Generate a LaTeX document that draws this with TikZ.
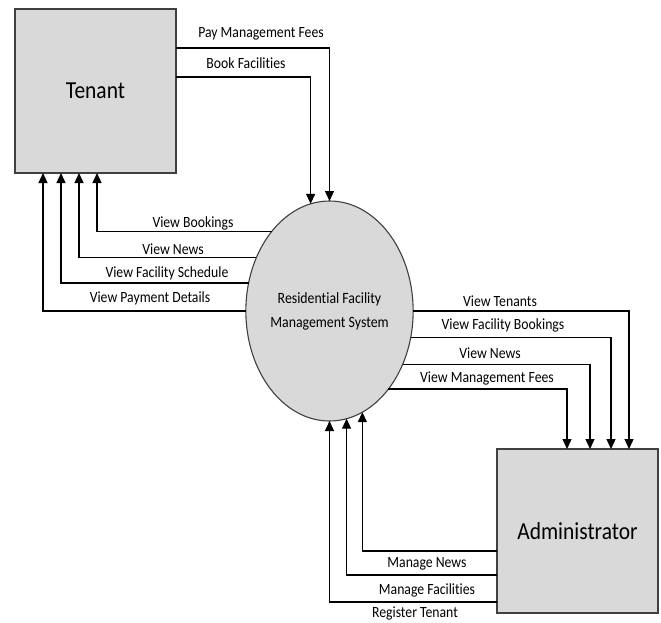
\documentclass[tikz,border=0pt]{standalone}
\usepackage{fontspec}
\setmainfont{Carlito}[FakeStretch=0.88,RawFeature=-liga]
\usetikzlibrary{shapes.geometric,arrows.meta}
\begin{document}
\begin{tikzpicture}[x=1pt,y=-1pt,
  entity/.style={draw=black!75,line width=1.3pt,fill=black!15,rectangle,minimum width=161pt,minimum height=164pt,inner sep=0pt,outer sep=0pt,font=\fontsize{24.4}{28}\selectfont},
  proc/.style={draw=black!75,line width=1.1pt,fill=black!15,ellipse,minimum width=161pt,minimum height=220pt,inner sep=0pt,outer sep=0pt,align=center,font=\fontsize{15.7}{24}\selectfont},
  flow/.style={draw=black,line width=1.3pt,-{Triangle[length=10pt,width=9pt]}},
  lbl/.style={inner sep=0pt,font=\fontsize{15.6}{18}\selectfont}]
\useasboundingbox (0,0) rectangle (661,622);
\node[entity] (tenant) at (95.5,91) {Tenant};
\node[entity] (admin) at (577.5,531) {Administrator};
\node[proc] (sys) at (329.5,311) {Residential Facility\\Management System};
% tenant -> system
\draw[flow] ([yshift=-39pt]tenant.north east) -| (sys.north);
\draw[flow] ([yshift=-68pt]tenant.north east) -| (sys.100.9);
\node[lbl] (l1) at (261,34) {Pay Management Fees};
\node[lbl] (l2) at (246,63) {Book Facilities};
% system -> tenant
\draw[flow] (sys.126.1) -| ([xshift=82pt]tenant.south west);
\draw[flow] (sys.144.4) -| ([xshift=64pt]tenant.south west);
\draw[flow] (sys.161.6) -| ([xshift=46pt]tenant.south west);
\draw[flow] (sys.west) -| ([xshift=28pt]tenant.south west);
\node[lbl] (l3) at (193,223) {View Bookings};
\node[lbl] (l4) at (173,249) {View News};
\node[lbl] (l5) at (167,273) {View Facility Schedule};
\node[lbl] (l6) at (150,298) {View Payment Details};
% system -> admin
\draw[flow] (sys.east) -| ([xshift=132pt]admin.north west);
\draw[flow] (sys.-18.4) -| ([xshift=114pt]admin.north west);
\draw[flow] (sys.-36.3) -| ([xshift=93pt]admin.north west);
\draw[flow] (sys.-53.9) -| ([xshift=70pt]admin.north west);
\node[lbl] (l7) at (500,301) {View Tenants};
\node[lbl] (l8) at (503,325) {View Facility Bookings};
\node[lbl] (l9) at (490,353) {View News};
\node[lbl] (l10) at (487,378) {View Management Fees};
% admin -> system
\draw[flow] ([yshift=-102pt]admin.north west) -| (sys.288.5);
\draw[flow] ([yshift=-126pt]admin.north west) -| (sys.279.25);
\draw[flow] ([yshift=-153pt]admin.north west) -| (sys.south);
\node[lbl] (l11) at (427,564) {Manage News};
\node[lbl] (l12) at (427,590) {Manage Facilities};
\node[lbl] (l13) at (415,613) {Register Tenant};
\end{tikzpicture}
\end{document}
